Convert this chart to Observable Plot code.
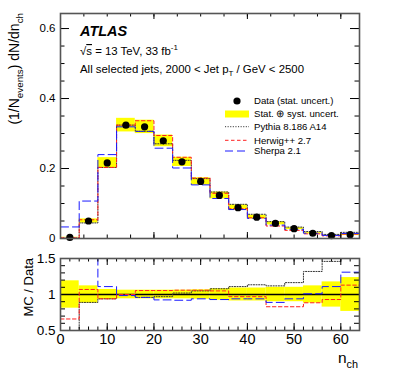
<!DOCTYPE html>
<html><head><meta charset="utf-8">
<script src="https://cdn.jsdelivr.net/npm/d3@7"></script>
<script src="https://cdn.jsdelivr.net/npm/@observablehq/plot@0.6"></script>
<style>
body{margin:0;background:#fff;}
#chart{position:relative;width:399px;height:379px;font-family:"Liberation Sans",Arial,sans-serif;}
#chart svg{position:absolute;left:0;display:block;overflow:visible;}
</style></head><body><div id="chart"></div>
<script>
// ---------------- data ----------------
const binLow   = [0,4,8,12,16,20,24,28,32,36,40,44,48,52,56,60];
const binWidth = 4;
const dataVals = [0.003,0.050,0.216,0.324,0.319,0.279,0.219,0.163,0.123,0.088,0.061,0.043,0.028,0.015,0.008,0.011];
const relUnc   = [0.19,0.12,0.07,0.06,0.06,0.06,0.06,0.065,0.08,0.09,0.09,0.10,0.10,0.12,0.175,0.235];
const ratioPythia = [0.5,0.89,0.94,1.0,0.96,0.97,1.02,1.05,1.08,1.11,1.135,1.12,1.165,1.32,1.46,1.6];
const ratioHerwig = [0.66,1.07,0.94,1.0,1.055,1.055,1.06,1.06,1.05,0.97,0.97,0.83,0.83,0.885,0.93,1.13];
const ratioSherpa = [11,2.14,1.11,0.985,0.96,0.925,0.92,0.94,0.93,0.94,0.94,0.89,0.94,1.01,1.11,1.31];
const yTicksTop   = [0,0.2,0.4,0.6];
const yTicksRatio = [0.5,1,1.5];
const xTicksRatio = [0,10,20,30,40,50,60];
const xMajorTop   = [0,20,40,60];
const refRatio    = 1;
const legendLabels = ["Data (stat. uncert.)","Stat. \u2295 syst. uncert.","Pythia 8.186 A14","Herwig++ 2.7","Sherpa 2.1"];

// ---------------- layout ----------------
const W = 399, ML = 60, MR = 40, PW = W - ML - MR;
const TOP_H = 240, TOP_MT = 13, TOP_MB = 2, TPH = TOP_H - TOP_MT - TOP_MB;
const BOT_H = 139, BOT_MT = 18, BOT_MB = 49, BPH = BOT_H - BOT_MT - BOT_MB;
const FONT = "Liberation Sans, Arial, Helvetica, sans-serif";

const bins = binLow.map((lo,i)=>({lo, hi: lo+binWidth, c: lo+binWidth/2, v: dataVals[i], u: relUnc[i]}));
const xMax = binLow[binLow.length-1] + binWidth;

const gens = [
  {name:"Pythia", r: ratioPythia, stroke:"#333", dash:"1.1 1.5", w:1},
  {name:"Herwig", r: ratioHerwig, stroke:"#ff2020", dash:"3.5 2.5", w:1},
  {name:"Sherpa", r: ratioSherpa, stroke:"#1a1aff", dash:"8 4", w:1}
];
function steps(g){
  const pts = bins.map((b,i)=>({x:b.lo, y:b.v*g.r[i], r:g.r[i]}));
  const last = pts[pts.length-1];
  pts.push({x:xMax, y:last.y, r:last.r});
  return pts;
}
const range = (a,b,s)=>d3.range(a,b+s/2,s);

function frameTicks(xMaj, xMin, yMaj, yMin, ph, L){
  const st = {stroke:"#000", strokeWidth:1};
  return [
    Plot.tickX(xMin, {...st, insetTop: ph-L.xmin}),
    Plot.tickX(xMin, {...st, insetBottom: ph-L.xmin}),
    Plot.tickX(xMaj, {...st, insetTop: ph-L.xmaj}),
    Plot.tickX(xMaj, {...st, insetBottom: ph-L.xmaj}),
    Plot.tickY(yMin, {...st, insetRight: PW-L.ymin}),
    Plot.tickY(yMin, {...st, insetLeft: PW-L.ymin}),
    Plot.tickY(yMaj, {...st, insetRight: PW-L.ymaj}),
    Plot.tickY(yMaj, {...st, insetLeft: PW-L.ymaj})
  ];
}

// ---------------- top panel ----------------
const topPlot = Plot.plot({
  width: W, height: TOP_H, marginLeft: ML, marginRight: MR, marginTop: TOP_MT, marginBottom: TOP_MB,
  style: {fontFamily: FONT, background: "transparent", color: "#000"},
  x: {domain:[0,xMax], axis:null},
  y: {domain:[0,0.643], axis:null},
  marks: [
    Plot.rect(bins, {x1:"lo", x2:"hi", y1:d=>d.v*(1-d.u), y2:d=>d.v*(1+d.u), fill:"#ffff00"}),
    ...gens.map(g=>Plot.line(steps(g), {x:"x", y:"y", curve:"step-after", stroke:g.stroke, strokeDasharray:g.dash, strokeWidth:g.w, clip:true})),
    Plot.dot(bins, {x:"c", y:"v", r:3.6, fill:"#000", stroke:null}),
    ...frameTicks(xMajorTop, range(0,60,5), yTicksTop, range(0,0.6,0.05), TPH, {xmin:3.5, xmaj:6, ymin:4.5, ymaj:9}),
    Plot.frame({stroke:"#555", strokeWidth:1.6}),
    Plot.axisY(yTicksTop, {tickSize:0, tickPadding:5, tickFormat:d=>d===0?"0":d.toFixed(1), fontSize:11.5, label:null})
  ]
});

// ---------------- ratio panel ----------------
const clampR = v=>Math.max(0.5, Math.min(1.5, v));
const botPlot = Plot.plot({
  width: W, height: BOT_H, marginLeft: ML, marginRight: MR, marginTop: BOT_MT, marginBottom: BOT_MB,
  style: {fontFamily: FONT, background: "transparent", color: "#000"},
  x: {domain:[0,xMax], axis:null},
  y: {domain:[0.5,1.5], axis:null},
  marks: [
    Plot.rect(bins, {x1:"lo", x2:"hi", y1:d=>1-d.u, y2:d=>1+d.u, fill:"#ffff00", clip:true}),
    Plot.ruleY([refRatio], {stroke:"#000", strokeWidth:1.3}),
    ...gens.map(g=>Plot.line(steps(g), {x:"x", y:d=>clampR(d.r), curve:"step-after", stroke:g.stroke, strokeDasharray:g.dash, strokeWidth:g.w, clip:true})),
    ...frameTicks(xTicksRatio, range(0,64,2), yTicksRatio, range(0.5,1.5,0.1), BPH, {xmin:3.5, xmaj:7, ymin:5, ymaj:9}),
    Plot.frame({stroke:"#555", strokeWidth:1.6}),
    Plot.axisY(yTicksRatio, {tickSize:0, tickPadding:5, tickFormat:d=>String(d), fontSize:13.5, label:null}),
    Plot.axisX(xTicksRatio, {tickSize:0, tickPadding:3, tickFormat:d=>String(d), fontSize:14.5, label:null})
  ]
});

const chart = document.getElementById("chart");
topPlot.style.top = "0px";
botPlot.style.top = TOP_H + "px";
chart.appendChild(topPlot);
chart.appendChild(botPlot);

// ---------------- annotations ----------------
const st = d3.select(topPlot);
function richText(sel, x, y, size, parts, opts={}){
  const t = sel.append("text").attr("font-size",size)
    .attr("font-family",FONT).attr("fill","#000").attr("text-anchor", opts.anchor || "start");
  if (opts.transform) t.attr("transform",opts.transform); else t.attr("x",x).attr("y",y);
  let shift = 0;
  parts.forEach(p=>{
    const s = typeof p === "string" ? {t:p} : p;
    const ts = t.append("tspan").text(s.t);
    const target = s.sub ? size*0.3 : s.sup ? -size*0.4 : 0;
    if (target !== shift) { ts.attr("dy", target - shift); shift = target; }
    if (s.sub || s.sup) ts.attr("font-size", size*0.7);
    if (s.over) ts.attr("text-decoration","overline");
  });
  return t;
}
st.append("text").attr("x",80).attr("y",36).attr("font-family",FONT).attr("font-size",14.5)
  .attr("text-anchor","start").attr("font-weight","bold").attr("font-style","italic").text("ATLAS");
richText(st, 80, 55, 11.4, ["\u221A", {t:"s", over:true}, " = 13 TeV, 33 fb", {t:"-1", sup:true}]);
richText(st, 80, 73, 11.4, ["All selected jets, 2000 < Jet p", {t:"T", sub:true}, " / GeV < 2500"]);

// y axis title (top)
richText(st, 0, 0, 14, ["(1/N", {t:"events", sub:true}, ") dN/dn", {t:"ch", sub:true}],
  {anchor:"end", transform:"translate(19,13) rotate(-90)"});

// legend
const LX1 = 225, LX2 = 249, TX = 254;
const rows = [101, 114, 126.7, 140.3, 151];
st.append("circle").attr("cx",237).attr("cy",rows[0]).attr("r",3.6).attr("fill","#000");
st.append("rect").attr("x",LX1).attr("y",rows[1]-3.5).attr("width",LX2-LX1).attr("height",7).attr("fill","#ffff00");
gens.forEach((g,i)=>{
  st.append("line").attr("x1",LX1).attr("x2",LX2).attr("y1",rows[i+2]).attr("y2",rows[i+2])
    .attr("stroke",g.stroke).attr("stroke-width",g.w).attr("stroke-dasharray",g.dash);
});
legendLabels.forEach((lab,i)=>{
  st.append("text").attr("x",TX).attr("y",rows[i]+3.4).attr("text-anchor","start")
    .attr("font-family",FONT).attr("font-size",9.6).text(lab);
});

// ratio panel titles
const sb = d3.select(botPlot);
richText(sb, 0, 0, 13, ["MC / Data"], {anchor:"end", transform:`translate(33,${BOT_MT}) rotate(-90)`});
richText(sb, 358, 123, 15.5, ["n", {t:"ch", sub:true}], {anchor:"end"});
</script></body></html>
